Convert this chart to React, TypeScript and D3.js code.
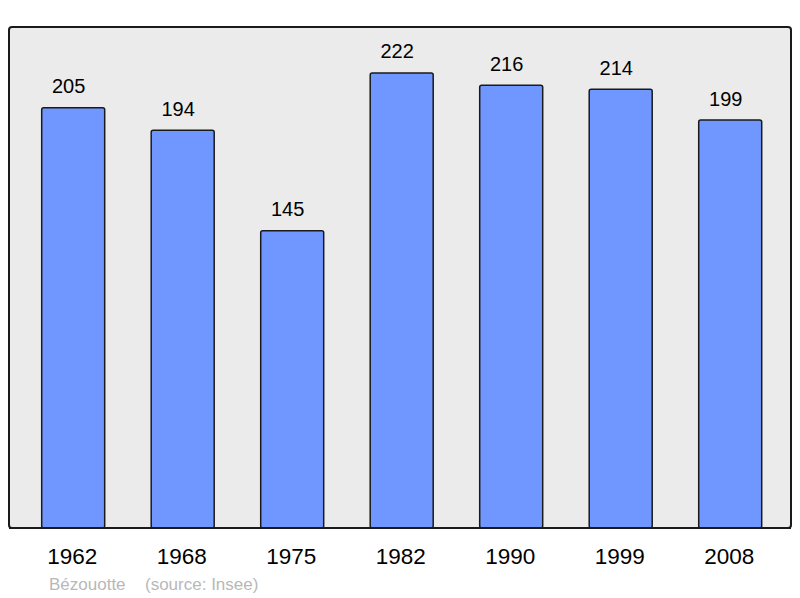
import React from "react";
import * as d3 from "d3";

const years = ["1962", "1968", "1975", "1982", "1990", "1999", "2008"];
const population = [205, 194, 145, 222, 216, 214, 199];
const townName = "Bézouotte";
const sourceText = "(source: Insee)";

export default function App() {
  const W = 800;
  const H = 598;
  const frame = { x: 9, y: 27, w: 782, h: 501 };
  const x = d3
    .scaleBand<string>()
    .domain(years)
    .range([9, 794.4])
    .paddingInner(0.4247)
    .paddingOuter(0.2986);
  const y = d3.scaleLinear().domain([0, 244.4]).range([frame.y + frame.h, frame.y]);
  const font = "'Liberation Sans', Arial, sans-serif";

  return (
    <svg
      width={W}
      height={H}
      style={{ position: "absolute", left: 0, top: 0, display: "block" }}
      fontFamily={font}
    >
      <rect width={W} height={H} fill="#ffffff" />
      <rect
        x={frame.x}
        y={frame.y}
        width={frame.w}
        height={frame.h}
        rx={3}
        fill="#ebebeb"
        stroke="#1a1a1a"
        strokeWidth={2}
      />
      {years.map((yr, i) => {
        const v = population[i];
        const bx = x(yr) as number;
        const bw = x.bandwidth();
        return (
          <g key={yr}>
            <rect
              x={bx}
              y={y(v)}
              width={bw}
              height={y(0) - y(v)}
              rx={2}
              fill="#7096ff"
              stroke="#1a1a1a"
              strokeWidth={1.5}
            />
            <text
              x={bx + bw / 2 - 4.5}
              y={y(v) - 14.5}
              textAnchor="middle"
              fontSize={20}
              fill="#000"
            >
              {v}
            </text>
            <text
              x={bx + bw / 2 - 1}
              y={564}
              textAnchor="middle"
              fontSize={22.5}
              fill="#000"
            >
              {yr}
            </text>
          </g>
        );
      })}
      <rect x={frame.x} y={frame.y + frame.h - 1} width={frame.w} height={2} fill="#1a1a1a" />
      <text x={49} y={590} fontSize={17} fill="#b8b8b8">
        {townName}
      </text>
      <text x={145} y={590} fontSize={17} fill="#b8b8b8">
        {sourceText}
      </text>
    </svg>
  );
}
